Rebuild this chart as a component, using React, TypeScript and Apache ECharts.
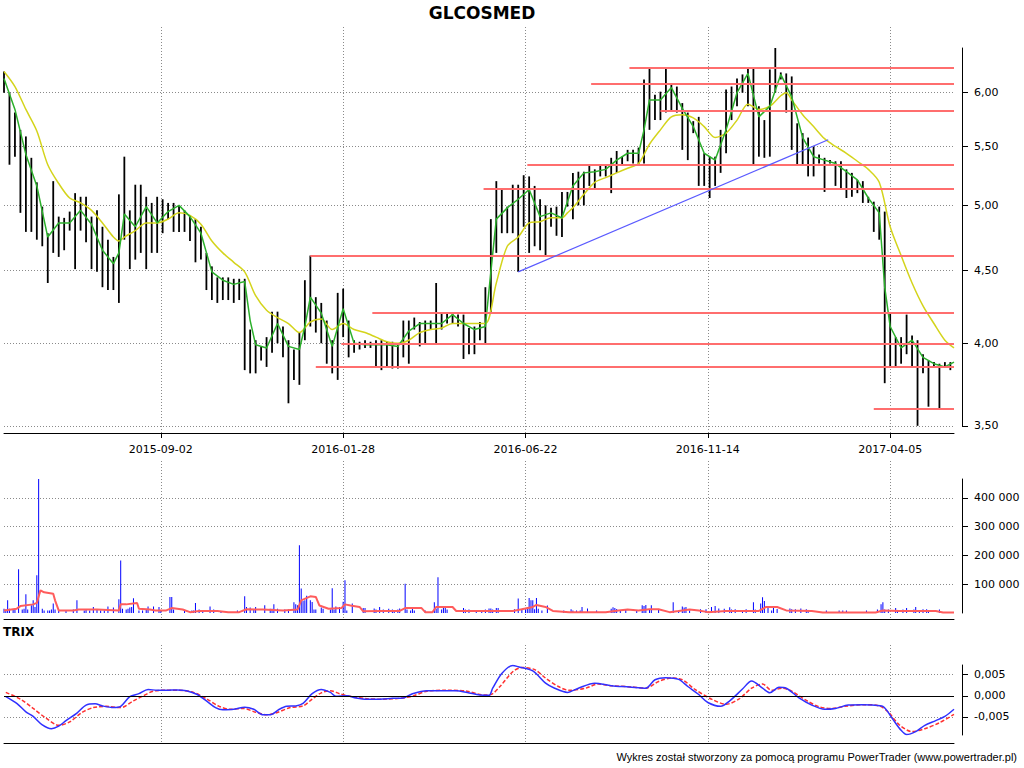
import React, { useEffect, useRef } from 'react';
import * as echarts from 'echarts';

const TRADING_DAYS = 522;
const SAMPLE_STEP = 3;
const dateTickDays = [86, 186, 286, 386, 486];
const dateTickLabels = ['2015-09-02', '2016-01-28', '2016-06-22', '2016-11-14', '2017-04-05'];
const priceTicks = [3.5, 4, 4.5, 5, 5.5, 6];
const volumeTicks = [100000, 200000, 300000, 400000];
const trixTicks = [-0.005, 0, 0.005];

// price bars: one high/low pair every SAMPLE_STEP trading days
const highs = [
  6.21, 6.0, 5.81, 5.65, 5.59, 5.4, 5.19, 4.99, 4.78, 5.2,
  4.91, 4.9, 4.95, 5.1, 5.07, 5.07, 4.91, 4.96, 4.83, 4.73,
  4.6, 5.09, 5.41, 4.96, 5.17, 5.17, 5.07, 5.02, 5.07, 5.05,
  5.02, 5.02, 5.0, 4.96, 4.92, 4.89, 4.83, 4.63, 4.53, 4.45,
  4.45, 4.45, 4.44, 4.44, 4.44, 4.09, 4.02, 3.98, 4.04, 4.21,
  4.21, 4.11, 4.02, 3.96, 4.07, 4.43, 4.61, 4.31, 4.27, 4.15,
  4.02, 4.34, 4.37, 4.15, 4.02, 4.01, 4.02, 4.01, 4.02, 4.02,
  4.01, 4.01, 4.0, 4.15, 4.15, 4.17, 4.14, 4.15, 4.15, 4.41,
  4.2, 4.2, 4.2, 4.19, 4.19, 4.1, 4.11, 4.14, 4.38, 4.89,
  5.2, 5.13, 4.99, 5.17, 5.17, 5.25, 5.24, 5.16, 5.05, 5.0,
  4.98, 4.99, 5.11, 5.11, 5.27, 5.28, 5.28, 5.34, 5.3, 5.33,
  5.34, 5.4, 5.46, 5.41, 5.47, 5.47, 5.49, 6.13, 6.24, 5.98,
  6.01, 6.24, 6.08, 6.06, 5.9, 5.81, 5.73, 5.77, 5.44, 5.41,
  5.41, 5.65, 6.03, 6.06, 6.14, 6.18, 6.24, 6.24, 5.87, 5.74,
  6.23, 6.45, 6.2, 6.19, 6.16, 5.71, 5.62, 5.58, 5.5, 5.43,
  5.4, 5.38, 5.37, 5.37, 5.3, 5.27, 5.21, 5.2, 5.07, 5.03,
  4.99, 4.95, 4.2, 4.04, 4.04, 4.19, 4.05, 4.02, 3.93, 3.89,
  3.88, 3.87, 3.88, 3.88,
];
const lows = [
  6.0, 5.34, 5.41, 4.94, 4.79, 4.79, 4.73, 4.68, 4.41, 4.63,
  4.6, 4.65, 4.8, 4.51, 4.8, 4.71, 4.51, 4.49, 4.38, 4.36,
  4.36, 4.27, 4.73, 4.51, 4.58, 4.63, 4.51, 4.63, 4.63, 4.78,
  4.89, 4.79, 4.79, 4.79, 4.72, 4.56, 4.58, 4.36, 4.29, 4.27,
  4.29, 4.29, 4.27, 4.29, 3.83, 3.81, 3.81, 3.89, 3.85, 3.94,
  4.0, 3.91, 3.63, 3.77, 3.74, 4.02, 4.11, 4.07, 4.0, 3.87,
  3.81, 3.77, 4.04, 3.91, 3.94, 3.96, 3.97, 3.97, 3.85, 3.83,
  3.85, 3.84, 3.84, 3.91, 3.87, 4.09, 3.98, 4.0, 4.09, 4.0,
  4.09, 4.13, 4.13, 4.11, 3.9, 3.93, 3.93, 4.02, 4.0, 4.2,
  4.63, 4.78, 4.78, 4.78, 4.49, 4.83, 4.63, 4.68, 4.65, 4.61,
  4.83, 4.76, 4.75, 4.99, 4.89, 5.0, 5.0, 5.16, 5.14, 5.24,
  5.24, 5.1, 5.27, 5.33, 5.37, 5.35, 5.33, 5.35, 5.65, 5.74,
  5.74, 5.81, 5.82, 5.81, 5.47, 5.38, 5.62, 5.16, 5.16, 5.06,
  5.16, 5.27, 5.44, 5.74, 5.87, 6.0, 5.87, 5.33, 5.41, 5.4,
  5.41, 6.0, 6.13, 5.81, 5.47, 5.33, 5.33, 5.24, 5.24, 5.35,
  5.11, 5.35, 5.16, 5.13, 5.06, 5.07, 5.1, 5.02, 5.02, 4.79,
  4.73, 3.75, 3.85, 3.85, 3.87, 3.93, 3.85, 3.5, 3.81, 3.61,
  3.85, 3.6, 3.85, 3.83,
];

// moving averages: [trading day, value]
const maShort = [
  [0, 6.14], [6, 5.84], [12, 5.43], [18, 5.16], [24, 4.75], [30, 4.86], [36, 4.86], [42, 4.96],
  [48, 4.85], [54, 4.65], [60, 4.55], [63, 4.63], [66, 4.93], [72, 4.83], [78, 4.99], [84, 4.86],
  [90, 4.95], [96, 5.0], [102, 4.91], [108, 4.78], [114, 4.49], [120, 4.43], [126, 4.4], [132, 4.42],
  [135, 4.15], [138, 3.99], [144, 3.97], [150, 4.13], [156, 3.98], [162, 3.96], [165, 4.11], [168, 4.31],
  [174, 4.2], [180, 3.98], [186, 4.23], [192, 4.0], [198, 3.99], [204, 3.99], [210, 3.99], [216, 3.98],
  [222, 4.08], [228, 4.13], [234, 4.13], [240, 4.13], [246, 4.19], [252, 4.13], [258, 4.09], [264, 4.11],
  [267, 4.49], [270, 4.89], [276, 4.98], [282, 5.05], [288, 5.13], [294, 4.91], [300, 4.94], [306, 4.9],
  [312, 5.16], [318, 5.27], [324, 5.28], [330, 5.3], [336, 5.38], [342, 5.44], [348, 5.44], [351, 5.65],
  [354, 5.93], [360, 5.93], [366, 6.05], [372, 5.85], [378, 5.68], [384, 5.44], [390, 5.38], [396, 5.65],
  [402, 6.0], [408, 6.19], [414, 5.77], [420, 5.87], [426, 6.18], [432, 5.96], [438, 5.58], [444, 5.41],
  [450, 5.38], [456, 5.35], [462, 5.28], [468, 5.21], [474, 5.06], [480, 4.94], [483, 4.38], [486, 4.11],
  [492, 3.97], [498, 4.02], [504, 3.91], [510, 3.87], [516, 3.85], [521, 3.88],
];
const maLong = [
  [0, 6.21], [6, 6.06], [12, 5.84], [18, 5.64], [24, 5.34], [30, 5.18], [36, 5.06], [42, 5.02],
  [48, 4.96], [54, 4.86], [60, 4.75], [63, 4.72], [66, 4.75], [72, 4.8], [78, 4.86], [84, 4.86],
  [90, 4.89], [96, 4.94], [102, 4.92], [108, 4.85], [114, 4.72], [120, 4.63], [126, 4.56], [132, 4.49],
  [138, 4.32], [144, 4.22], [150, 4.17], [156, 4.13], [162, 4.07], [168, 4.14], [174, 4.16], [180, 4.09],
  [186, 4.13], [192, 4.09], [198, 4.07], [204, 4.04], [210, 4.01], [216, 4.0], [222, 4.02], [228, 4.07],
  [234, 4.09], [240, 4.1], [246, 4.13], [252, 4.13], [258, 4.13], [264, 4.13], [270, 4.41], [276, 4.68],
  [282, 4.75], [288, 4.86], [294, 4.87], [300, 4.9], [306, 4.9], [309, 4.94], [312, 4.98], [318, 5.09],
  [324, 5.19], [330, 5.23], [336, 5.27], [342, 5.31], [348, 5.35], [354, 5.52], [360, 5.65], [366, 5.77],
  [372, 5.79], [378, 5.76], [384, 5.68], [390, 5.58], [396, 5.62], [402, 5.74], [408, 5.89], [414, 5.84],
  [420, 5.87], [426, 5.97], [429, 6.0], [432, 5.93], [438, 5.79], [444, 5.68], [450, 5.57], [456, 5.5],
  [462, 5.44], [468, 5.37], [474, 5.3], [480, 5.19], [486, 4.83], [492, 4.61], [498, 4.41], [504, 4.25],
  [510, 4.13], [516, 4.02], [521, 3.97],
];

// support / resistance levels and trend line
const levelPrices = [6.25, 6.09, 5.83, 5.34, 5.14, 4.61, 4.205, 4.0, 3.853, 3.6];
const levelStartDays = [343, 322, 360, 287, 263, 168, 202, 185, 171, 477];
const trendLine = [[282, 4.49], [452, 5.56]];

// volume: [trading day, shares]
const volumes = [
  [0, 15000], [1, 12000], [2, 44000], [3, 15000], [5, 12000], [6, 12000], [8, 152000], [10, 12000],
  [11, 15000], [12, 65000], [13, 12000], [15, 27000], [16, 44000], [17, 21000], [18, 131000], [19, 468000],
  [21, 15000], [22, 9000], [24, 9000], [25, 9000], [26, 12000], [27, 33000], [28, 12000], [30, 9000],
  [34, 7000], [38, 12000], [40, 44000], [44, 9000], [45, 12000], [47, 9000], [49, 21000], [51, 12000],
  [53, 9000], [55, 9000], [57, 23000], [60, 19000], [63, 48000], [64, 183000], [65, 15000], [67, 12000],
  [68, 15000], [69, 19000], [70, 21000], [71, 51000], [74, 9000], [76, 9000], [78, 12000], [79, 23000],
  [82, 23000], [85, 21000], [86, 9000], [91, 56000], [92, 56000], [93, 12000], [99, 9000], [103, 9000],
  [104, 9000], [105, 35000], [107, 12000], [109, 9000], [113, 23000], [115, 12000], [119, 7000], [128, 9000],
  [132, 58000], [133, 21000], [135, 19000], [137, 12000], [138, 21000], [143, 27000], [146, 15000], [147, 15000],
  [148, 30000], [150, 15000], [154, 12000], [156, 12000], [159, 37000], [160, 30000], [161, 27000], [162, 236000],
  [163, 85000], [164, 42000], [165, 44000], [166, 60000], [168, 44000], [169, 38000], [170, 12000], [171, 12000],
  [174, 19000], [175, 15000], [179, 12000], [180, 86000], [181, 12000], [182, 23000], [184, 21000], [186, 39000],
  [187, 114000], [188, 9000], [191, 33000], [197, 17000], [198, 17000], [203, 16000], [204, 12000], [206, 21000],
  [208, 12000], [211, 15000], [213, 12000], [214, 9000], [216, 12000], [217, 16000], [220, 102000], [221, 12000],
  [223, 9000], [224, 21000], [225, 9000], [231, 9000], [236, 37000], [237, 15000], [238, 124000], [240, 12000],
  [241, 23000], [242, 23000], [243, 12000], [252, 17000], [253, 12000], [255, 12000], [259, 9000], [262, 9000],
  [264, 12000], [266, 16000], [267, 16000], [268, 12000], [270, 17000], [271, 17000], [280, 13000], [282, 50000],
  [284, 15000], [286, 13000], [287, 21000], [288, 52000], [289, 44000], [290, 44000], [291, 13000], [292, 52000],
  [293, 15000], [295, 9000], [298, 26000], [307, 9000], [311, 13000], [312, 9000], [314, 9000], [316, 9000],
  [317, 21000], [320, 16000], [325, 9000], [333, 15000], [334, 20000], [335, 17000], [336, 14000], [338, 9000],
  [341, 13000], [347, 9000], [350, 27000], [351, 24000], [352, 28000], [354, 12000], [355, 27000], [359, 13000],
  [367, 37000], [370, 9000], [372, 23000], [373, 19000], [374, 21000], [376, 9000], [382, 13000], [385, 13000],
  [388, 21000], [390, 24000], [392, 16000], [395, 15000], [398, 20000], [399, 12000], [401, 13000], [405, 9000],
  [407, 13000], [411, 37000], [412, 12000], [415, 33000], [416, 55000], [417, 42000], [419, 21000], [421, 9000],
  [422, 21000], [424, 14000], [431, 16000], [432, 13000], [434, 13000], [437, 16000], [440, 13000], [441, 9000],
  [451, 9000], [458, 9000], [460, 9000], [462, 9000], [473, 9000], [479, 12000], [481, 30000], [482, 37000],
  [483, 12000], [485, 12000], [489, 17000], [490, 9000], [493, 12000], [495, 17000], [499, 12000], [500, 21000],
  [502, 9000], [504, 13000], [506, 13000], [507, 9000], [513, 12000],
];
const volumeMA = [
  [0, 9000], [7, 15000], [9, 24000], [16, 30000], [18, 35000], [20, 79000], [22, 72000], [27, 67000],
  [28, 44000], [30, 9000], [38, 9000], [41, 12000], [51, 12000], [63, 9000], [64, 30000], [67, 30000],
  [73, 35000], [74, 15000], [80, 12000], [83, 9000], [89, 9000], [92, 17000], [98, 12000], [102, 3000],
  [107, 7000], [117, 7000], [123, 3000], [129, 3000], [133, 13000], [142, 12000], [153, 9000], [161, 12000],
  [163, 44000], [168, 58000], [171, 56000], [173, 26000], [178, 15000], [185, 17000], [187, 30000], [190, 26000],
  [195, 21000], [197, 6000], [208, 7000], [217, 7000], [220, 17000], [229, 17000], [231, 3000], [235, 3000],
  [237, 21000], [246, 21000], [248, 7000], [272, 7000], [279, 7000], [284, 13000], [290, 21000], [292, 28000],
  [297, 21000], [301, 7000], [310, 3000], [330, 3000], [337, 9000], [342, 12000], [348, 9000], [354, 13000],
  [359, 13000], [365, 3000], [370, 7000], [376, 12000], [381, 9000], [386, 3000], [396, 7000], [407, 7000],
  [414, 7000], [418, 21000], [424, 21000], [429, 9000], [443, 7000], [449, 2000], [478, 2000], [482, 9000],
  [491, 7000], [511, 7000], [515, 2000], [521, 2000],
];

// TRIX and its signal line: [trading day, value]
const trix = [
  [1, -0.0002], [7, -0.0018], [12, -0.0038], [16, -0.0049], [21, -0.0069], [26, -0.0078], [30, -0.0072],
  [34, -0.0059], [40, -0.0041], [45, -0.0022], [50, -0.0019], [54, -0.0024], [60, -0.0028], [64, -0.0025],
  [69, -0.0002], [74, 0.0005], [79, 0.0015], [84, 0.0013], [89, 0.0013], [95, 0.0014], [100, 0.0012],
  [106, 0.0003], [111, -0.0012], [116, -0.0028], [120, -0.0033], [126, -0.0032], [132, -0.0027], [137, -0.0032],
  [142, -0.0045], [146, -0.0045], [151, -0.0032], [155, -0.0025], [160, -0.0024], [164, -0.0018], [169, 0.0005],
  [174, 0.0015], [179, 0.0008], [182, -0.0001], [188, 0.0], [193, -0.0005], [199, -0.0008], [206, -0.0008],
  [213, -0.0006], [219, -0.0005], [224, 0.0005], [232, 0.0012], [239, 0.0012], [248, 0.0012], [254, 0.0008],
  [261, 0.0002], [266, 0.0001], [268, 0.0018], [273, 0.0053], [279, 0.0072], [282, 0.0069], [290, 0.0059],
  [297, 0.003], [302, 0.0018], [309, 0.0008], [315, 0.0018], [324, 0.003], [333, 0.0024], [343, 0.0021],
  [352, 0.0018], [357, 0.0038], [363, 0.0043], [370, 0.0039], [375, 0.0022], [381, 0.0003], [386, -0.0016],
  [393, -0.0025], [398, -0.0012], [405, 0.0016], [410, 0.0035], [416, 0.0018], [420, 0.0007], [425, 0.002],
  [429, 0.0018], [436, -0.0005], [443, -0.0022], [450, -0.0032], [456, -0.003], [463, -0.0022], [471, -0.0021],
  [476, -0.0022], [482, -0.0025], [487, -0.0053], [492, -0.0082], [495, -0.0092], [500, -0.0085], [505, -0.007],
  [511, -0.0059], [516, -0.0049], [521, -0.0032],
];
const trixSignal = [
  [1, 0.0008], [9, -0.0008], [16, -0.003], [23, -0.0053], [30, -0.007], [36, -0.0062], [43, -0.0039],
  [49, -0.0028], [56, -0.0025], [64, -0.0028], [71, -0.0012], [76, -0.0001], [82, 0.0011], [89, 0.0013],
  [96, 0.0013], [104, 0.0008], [111, -0.0007], [118, -0.0025], [124, -0.0032], [131, -0.003], [138, -0.0039],
  [144, -0.0045], [149, -0.0041], [157, -0.0028], [164, -0.0024], [169, -0.0008], [174, 0.0007], [179, 0.0012],
  [184, 0.0005], [191, -0.0002], [199, -0.0007], [208, -0.0008], [217, -0.0006], [224, -0.0001], [232, 0.0011],
  [243, 0.0013], [254, 0.0011], [263, 0.0002], [267, 0.0003], [272, 0.0022], [279, 0.0057], [284, 0.0067],
  [291, 0.0062], [297, 0.0042], [304, 0.0022], [310, 0.0013], [319, 0.0018], [326, 0.0028], [333, 0.0024],
  [344, 0.0021], [352, 0.0018], [359, 0.0034], [366, 0.0042], [372, 0.0038], [379, 0.0015], [388, -0.0008],
  [396, -0.002], [403, -0.0008], [410, 0.0018], [416, 0.0028], [421, 0.0013], [427, 0.0018], [432, 0.0011],
  [440, -0.0011], [447, -0.0026], [454, -0.003], [461, -0.0025], [471, -0.0021], [480, -0.0024], [485, -0.0039],
  [491, -0.0069], [498, -0.0085], [505, -0.0078], [513, -0.0064], [521, -0.0044],
];

const FONT = 'DejaVu Sans';

function buildOption(): any {
  const days = Array.from({ length: TRADING_DAYS }, (_, i) => String(i));
  const isDateTick = (i: number) => dateTickDays.includes(i);
  const L = 4;
  const R = 70;
  const dotted = { color: '#8a8a8a', type: [1, 2], width: 1 };
  const axisFont = { color: '#000', fontFamily: FONT, fontSize: 11 };

  const bgX = (gridIndex: number, withLabels: boolean) => ({
    type: 'category',
    gridIndex,
    data: days,
    boundaryGap: false,
    axisLine: { show: true, onZero: false, lineStyle: { color: '#000', width: 1 } },
    axisTick: {
      show: withLabels,
      interval: (i: number) => isDateTick(i),
      length: 5,
      lineStyle: { color: '#000' },
    },
    axisLabel: {
      show: withLabels,
      interval: (i: number) => isDateTick(i),
      formatter: (v: string) => {
        const j = dateTickDays.indexOf(Number(v));
        return j >= 0 ? dateTickLabels[j] : '';
      },
      margin: 11,
      ...axisFont,
    },
    splitLine: { show: true, interval: (i: number) => isDateTick(i), lineStyle: dotted },
  });
  const dataX = (gridIndex: number) => ({
    type: 'category',
    gridIndex,
    data: days,
    boundaryGap: false,
    show: false,
  });
  const bgY = (gridIndex: number) => ({
    type: 'value',
    gridIndex,
    show: false,
    splitLine: { show: false },
  });
  const rightY = (gridIndex: number, extra: any, ticks: number[], fmt: (v: number) => string) => ({
    gridIndex,
    position: 'right',
    offset: 8,
    axisLine: { show: true, onZero: false, lineStyle: { color: '#000', width: 1 } },
    axisTick: { show: true, length: 6, customValues: ticks, lineStyle: { color: '#000' } },
    axisLabel: { customValues: ticks, formatter: fmt, margin: 12, ...axisFont },
    splitLine: { show: true, lineStyle: dotted },
    ...extra,
  });

  const fmtVolume = (v: number) => String(Math.round(v)).replace(/\B(?=(\d{3})+(?!\d))/g, ' ');
  const fmtPrice = (v: number) => v.toFixed(2).replace('.', ',');
  const fmtTrix = (v: number) => (Math.abs(v) < 1e-9 ? '0,000' : v.toFixed(3).replace('.', ','));

  return {
    animation: false,
    backgroundColor: '#ffffff',
    grid: [
      { left: L, right: R, top: 27, bottom: 335 },
      { left: L, right: R, top: 48, bottom: 342 },
      { left: L, right: R, top: 461, bottom: 149 },
      { left: L, right: R, top: 479, bottom: 155 },
      { left: L, right: R, top: 645, bottom: 25 },
      { left: L, right: R, top: 665, bottom: 33 },
    ],
    xAxis: [bgX(0, true), dataX(1), bgX(2, false), dataX(3), bgX(4, false), dataX(5)],
    yAxis: [
      bgY(0),
      rightY(1, { type: 'log', min: 3.499, max: 6.45 }, priceTicks, fmtPrice),
      bgY(2),
      rightY(3, { type: 'value', min: 0, max: 466000 }, volumeTicks, fmtVolume),
      bgY(4),
      rightY(5, { type: 'value', min: -0.0093, max: 0.0073 }, trixTicks, fmtTrix),
    ],
    graphic: [
      {
        type: 'text',
        x: 482,
        y: 13,
        style: { text: 'GLCOSMED', fontFamily: FONT, fontWeight: 'bold', fontSize: 17, fill: '#000', align: 'center', verticalAlign: 'middle' },
      },
      {
        type: 'text',
        x: 3,
        y: 632,
        style: { text: 'TRIX', fontFamily: FONT, fontWeight: 'bold', fontSize: 12, fill: '#000', align: 'left', verticalAlign: 'middle' },
      },
      {
        type: 'text',
        x: 1017,
        y: 757,
        style: {
          text: 'Wykres został stworzony za pomocą programu PowerTrader (www.powertrader.pl)',
          fontFamily: 'Liberation Sans',
          fontSize: 11,
          fill: '#000',
          align: 'right',
          verticalAlign: 'middle',
        },
      },
    ],
    series: [
      {
        type: 'custom',
        name: 'Kurs',
        xAxisIndex: 1,
        yAxisIndex: 1,
        data: highs.map((h, k) => [k * SAMPLE_STEP, h, lows[k]]),
        encode: { x: 0, y: [1, 2] },
        renderItem: (_params: any, api: any) => {
          const d = api.value(0);
          const p1 = api.coord([d, api.value(1)]);
          const p2 = api.coord([d, api.value(2)]);
          return {
            type: 'line',
            shape: { x1: p1[0], y1: p1[1], x2: p2[0], y2: p2[1] },
            style: { stroke: '#000', lineWidth: 1.8 },
          };
        },
        z: 2,
      },
      {
        type: 'line',
        name: 'SMA long',
        xAxisIndex: 1,
        yAxisIndex: 1,
        data: maLong,
        showSymbol: false,
        smooth: 0.3,
        lineStyle: { color: '#d4d41c', width: 1.5 },
        z: 3,
        markLine: {
          silent: true,
          symbol: ['none', 'none'],
          label: { show: false },
          lineStyle: { color: '#ff6e6e', width: 2, type: 'solid' },
          data: [
            ...levelPrices.map((p, i) => [{ coord: [levelStartDays[i], p] }, { coord: [TRADING_DAYS - 1, p] }]),
            [
              { coord: trendLine[0], lineStyle: { color: '#5a5aff', width: 1.2, type: 'solid' } },
              { coord: trendLine[1] },
            ],
          ],
        },
      },
      {
        type: 'line',
        name: 'SMA short',
        xAxisIndex: 1,
        yAxisIndex: 1,
        data: maShort,
        showSymbol: false,
        lineStyle: { color: '#2cb02c', width: 1.5 },
        z: 4,
      },
      {
        type: 'bar',
        name: 'Wolumen',
        xAxisIndex: 3,
        yAxisIndex: 3,
        data: volumes,
        barWidth: 1,
        itemStyle: { color: '#0000ff' },
      },
      {
        type: 'line',
        name: 'Wolumen MA',
        xAxisIndex: 3,
        yAxisIndex: 3,
        data: volumeMA,
        showSymbol: false,
        lineStyle: { color: '#ff5c5c', width: 2 },
      },
      {
        type: 'line',
        name: 'TRIX',
        xAxisIndex: 5,
        yAxisIndex: 5,
        data: trix,
        showSymbol: false,
        smooth: 0.3,
        lineStyle: { color: '#3030ff', width: 1.5 },
        z: 4,
        markLine: {
          silent: true,
          symbol: ['none', 'none'],
          label: { show: false },
          lineStyle: { color: '#000', width: 1, type: 'solid' },
          data: [{ yAxis: 0 }],
        },
      },
      {
        type: 'line',
        name: 'Sygnał',
        xAxisIndex: 5,
        yAxisIndex: 5,
        data: trixSignal,
        showSymbol: false,
        smooth: 0.3,
        lineStyle: { color: '#ff3030', width: 1.5, type: [4, 2] },
        z: 3,
      },
    ],
  };
}

export default function App() {
  const ref = useRef<HTMLDivElement>(null);
  useEffect(() => {
    if (!ref.current) return;
    const chart = echarts.init(ref.current, null, { renderer: 'svg' });
    chart.setOption(buildOption());
    return () => chart.dispose();
  }, []);
  return (
    <div
      ref={ref}
      style={{ position: 'fixed', left: 0, top: 0, width: 1024, height: 768, background: '#fff' }}
    />
  );
}
